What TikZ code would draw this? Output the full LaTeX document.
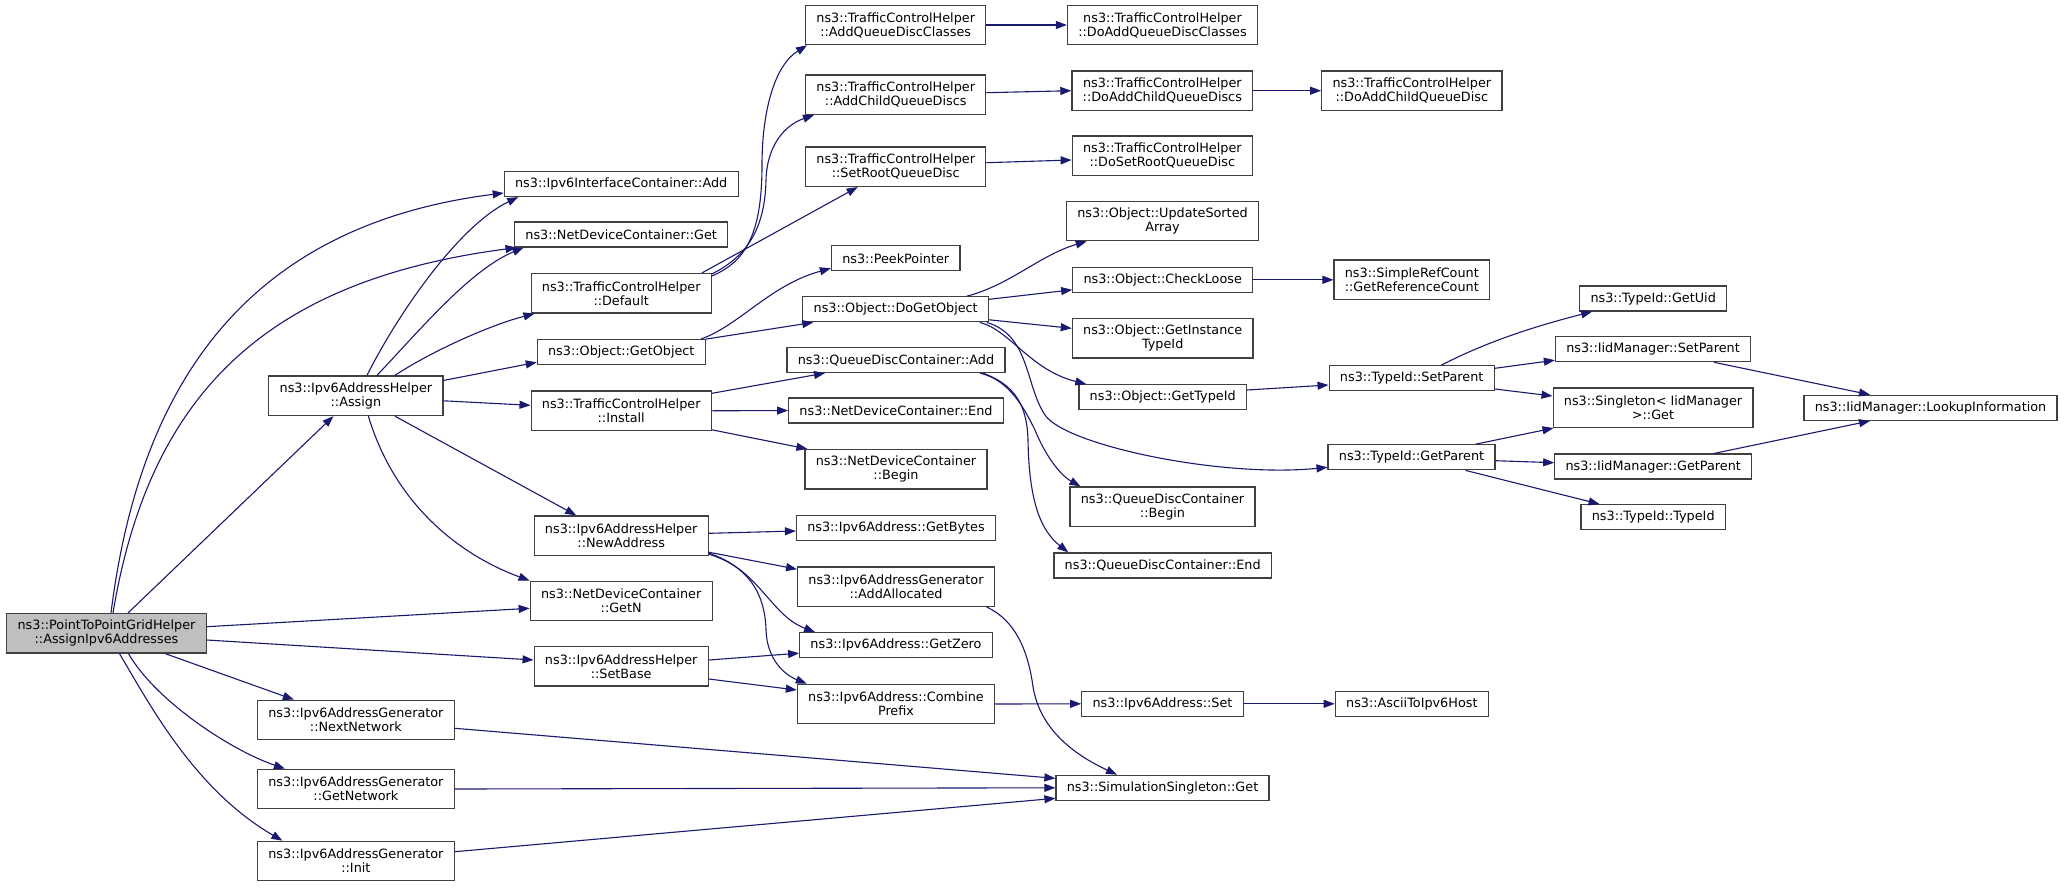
\documentclass[tikz,border=0pt]{standalone}
\usepackage{fontspec}
\setmainfont{DejaVu Sans}
\usetikzlibrary{arrows.meta, positioning}
\definecolor{edgeblue}{RGB}{25,25,112}
\definecolor{boxgray}{RGB}{64,64,64}
\definecolor{rootfill}{RGB}{191,191,191}
\tikzset{
  fn/.style={rectangle, draw=boxgray, fill=white, line width=1.2pt,
    align=center, inner xsep=10.8pt, inner ysep=0pt, minimum height=25pt,
    font=\fontsize{12.8}{14}\selectfont},
  fnTwo/.style={fn, minimum height=39.5pt},
  fnRoot/.style={fnTwo, fill=rootfill},
  call/.style={-{Triangle[length=11pt, width=8pt]}, line width=1.1pt, draw=edgeblue},
}
\begin{document}
\begin{tikzpicture}[x=1pt, y=-1pt]
  \path[use as bounding box, fill=white] (0,0) rectangle (2064,887);

  % ---- Caller and first level ----
  \node[fnRoot] (root) at (106.5,633.3) {ns3::PointToPointGridHelper\\::AssignIpv6Addresses};
  \node[fnTwo] (assign)  at (355.9,395.8) {ns3::Ipv6AddressHelper\\::Assign};
  \node[fnTwo] (nextnet) at (355.9,720)   {ns3::Ipv6AddressGenerator\\::NextNetwork};
  \node[fnTwo] (getnet)  at (355.9,789)   {ns3::Ipv6AddressGenerator\\::GetNetwork};
  \node[fnTwo] (init)    at (355.9,861)   {ns3::Ipv6AddressGenerator\\::Init};

  % ---- Second column ----
  \node[fn]    (ifadd)     at (621.2,184)   {ns3::Ipv6InterfaceContainer::Add};
  \node[fn]    (ndget)     at (621.2,234.5) {ns3::NetDeviceContainer::Get};
  \node[fnTwo] (tcdefault) at (621.2,293.3) {ns3::TrafficControlHelper\\::Default};
  \node[fn]    (getobj)    at (621.3,352.2) {ns3::Object::GetObject};
  \node[fnTwo] (tcinstall) at (621.2,410.8) {ns3::TrafficControlHelper\\::Install};
  \node[fnTwo] (newaddr)   at (621.2,535.7) {ns3::Ipv6AddressHelper\\::NewAddress};
  \node[fnTwo] (getn)      at (621.2,601)   {ns3::NetDeviceContainer\\::GetN};
  \node[fnTwo] (setbase)   at (621.2,666.3) {ns3::Ipv6AddressHelper\\::SetBase};

  % ---- Third column ----
  \node[fnTwo] (addqdc)   at (895.7,25)    {ns3::TrafficControlHelper\\::AddQueueDiscClasses};
  \node[fnTwo] (addcqd)   at (895.7,94.7)  {ns3::TrafficControlHelper\\::AddChildQueueDiscs};
  \node[fnTwo] (setroot)  at (895.7,166.7) {ns3::TrafficControlHelper\\::SetRootQueueDisc};
  \node[fn]    (peek)     at (895.7,258.3) {ns3::PeekPointer};
  \node[fn]    (dogetobj) at (895.7,309.3) {ns3::Object::DoGetObject};
  \node[fn]    (qdcadd)   at (896,360)     {ns3::QueueDiscContainer::Add};
  \node[fn]    (ndend)    at (896,410.5)   {ns3::NetDeviceContainer::End};
  \node[fnTwo] (ndbegin)  at (896,469.3)   {ns3::NetDeviceContainer\\::Begin};
  \node[fn]    (getbytes) at (896,527.8)   {ns3::Ipv6Address::GetBytes};
  \node[fnTwo] (addalloc) at (896,586.7)   {ns3::Ipv6AddressGenerator\\::AddAllocated};
  \node[fn]    (getzero)  at (896,645.2)   {ns3::Ipv6Address::GetZero};
  \node[fnTwo] (combine)  at (896,704)     {ns3::Ipv6Address::Combine\\Prefix};

  % ---- Fourth column ----
  \node[fnTwo] (doaddqdc)   at (1162.5,25)    {ns3::TrafficControlHelper\\::DoAddQueueDiscClasses};
  \node[fnTwo] (doaddcqds)  at (1162.3,90.7)  {ns3::TrafficControlHelper\\::DoAddChildQueueDiscs};
  \node[fnTwo] (dosetroot)  at (1162.3,155.7) {ns3::TrafficControlHelper\\::DoSetRootQueueDisc};
  \node[fnTwo] (updsorted)  at (1162.5,221)   {ns3::Object::UpdateSorted\\Array};
  \node[fn]    (checkloose) at (1162.7,279.8) {ns3::Object::CheckLoose};
  \node[fnTwo] (insttid)    at (1162.7,338.3) {ns3::Object::GetInstance\\TypeId};
  \node[fn]    (gettid)     at (1162.7,397.2) {ns3::Object::GetTypeId};
  \node[fnTwo] (qdcbegin)   at (1162.5,506.7) {ns3::QueueDiscContainer\\::Begin};
  \node[fn]    (qdcend)     at (1162.7,565.5) {ns3::QueueDiscContainer::End};
  \node[fn]    (v6set)      at (1162.5,703.8) {ns3::Ipv6Address::Set};
  \node[fn]    (simget)     at (1162.5,787.8) {ns3::SimulationSingleton::Get};

  % ---- Fifth column ----
  \node[fnTwo] (doaddcqd)  at (1411.8,90.7)  {ns3::TrafficControlHelper\\::DoAddChildQueueDisc};
  \node[fnTwo] (refcount)  at (1411.8,279.8) {ns3::SimpleRefCount\\::GetReferenceCount};
  \node[fn]    (tidsetpar) at (1411.7,378.3) {ns3::TypeId::SetParent};
  \node[fn]    (tidgetpar) at (1411.5,457.3) {ns3::TypeId::GetParent};
  \node[fn]    (ascii)     at (1411.8,703.8) {ns3::AsciiToIpv6Host};

  % ---- Sixth and last column ----
  \node[fn]    (getuid)    at (1653.2,298.5) {ns3::TypeId::GetUid};
  \node[fn]    (iidsetpar) at (1653,349.2)   {ns3::IidManager::SetParent};
  \node[fnTwo] (singget)   at (1653,407.7)   {ns3::Singleton< IidManager\\>::Get};
  \node[fn]    (iidgetpar) at (1653.2,466.5) {ns3::IidManager::GetParent};
  \node[fn]    (tidtypeid) at (1653.2,517.2) {ns3::TypeId::TypeId};
  \node[fn]    (lookup)    at (1930.5,407.8) {ns3::IidManager::LookupInformation};

  % ---- Calls from the caller ----
  \draw[call] ([xshift=4.5pt]root.north) .. controls (140,380) and (250,225) .. ([yshift=-9pt]ifadd.west);
  \draw[call] ([xshift=6.5pt]root.north) .. controls (150,390) and (270,280) .. ([xshift=2.5pt]ndget.south west);
  \draw[call] ([xshift=21.5pt]root.north) -- ([xshift=-22.5pt]assign.south);
  \draw[call] ([yshift=6.6pt]root.east) -- ([yshift=-7.3pt]getn.west);
  \draw[call] ([yshift=-6.7pt]root.east) -- ([yshift=6.3pt]setbase.west);
  \draw[call] ([xshift=58.8pt]root.south) -- ([xshift=-62pt]nextnet.north);
  \draw[call] ([xshift=22pt]root.south) .. controls (155,700) and (230,750) .. ([xshift=-71pt]getnet.north);
  \draw[call] ([xshift=13pt]root.south) .. controls (150,705) and (195,790) .. ([xshift=-73.5pt]init.north);

  % ---- Ipv6AddressHelper::Assign ----
  \draw[call] ([xshift=11pt]assign.north) .. controls (400,310) and (460,225) .. ([xshift=14.5pt]ifadd.south west);
  \draw[call] ([xshift=21pt]assign.north) .. controls (420,330) and (470,270) .. ([xshift=9.5pt]ndget.south west);
  \draw[call] ([xshift=39pt]assign.north) .. controls (430,352) and (490,325) .. ([xshift=4pt]tcdefault.south west);
  \draw[call] ([yshift=-5pt]assign.north east) -- ([yshift=3pt]getobj.south west);
  \draw[call] ([yshift=-5pt]assign.east) -- ([yshift=5.5pt]tcinstall.west);
  \draw[call] ([xshift=39pt]assign.south) -- ([xshift=-45pt]newaddr.north);
  \draw[call] ([xshift=12.5pt]assign.south) .. controls (395,505) and (460,555) .. (getn.north west);

  % ---- TrafficControlHelper::Default ----
  \draw[call] ([yshift=-3pt]tcdefault.north east) .. controls (745,262) and (762,235) .. (762,165)
    .. controls (762,110) and (775,65) .. ([xshift=2pt]addqdc.south west);
  \draw[call] ([yshift=-1pt]tcdefault.north east) .. controls (750,255) and (765,225) .. (766,180)
    .. controls (767,145) and (785,125) .. ([xshift=9pt]addcqd.south west);
  \draw[call] ([xshift=-10pt]tcdefault.north east) -- ([xshift=-38pt]setroot.south);
  \draw[call] (addqdc.east) -- (doaddqdc.west);
  \draw[call] ([yshift=2pt]addcqd.east) -- (doaddcqds.west);
  \draw[call] (doaddcqds.east) -- (doaddcqd.west);
  \draw[call] ([yshift=4pt]setroot.east) -- ([yshift=-4.3pt]dosetroot.west);

  % ---- Object::GetObject ----
  \draw[call] ([xshift=-5pt]getobj.north east) .. controls (740,325) and (770,285) .. ([yshift=-10pt]peek.west);
  \draw[call] (getobj.north east) -- ([xshift=11pt]dogetobj.south west);
  \draw[call] ([xshift=71pt]dogetobj.north) .. controls (1010,285) and (1040,255) .. ([xshift=-75.8pt]updsorted.south);
  \draw[call] ([yshift=10pt]dogetobj.east) -- ([yshift=-10pt]checkloose.west);
  \draw[call] ([yshift=-10.5pt]dogetobj.east) -- ([yshift=10pt]insttid.west);
  \draw[call] ([xshift=84pt]dogetobj.south) .. controls (1010,330) and (1030,370) .. ([xshift=8pt]gettid.north west);
  \draw[call] ([xshift=91pt]dogetobj.south) .. controls (1030,335) and (1025,385) .. (1045,415)
    .. controls (1065,445) and (1220,478) .. ([yshift=-10pt]tidgetpar.west);
  \draw[call] (checkloose.east) -- (refcount.west);
  \draw[call] ([yshift=7.2pt]gettid.east) -- ([yshift=-6.7pt]tidsetpar.west);

  % ---- TypeId ----
  \draw[call] ([xshift=29.6pt]tidsetpar.north) .. controls (1490,340) and (1540,325) .. ([xshift=13pt]getuid.south west);
  \draw[call] ([yshift=10pt]tidsetpar.east) -- ([yshift=-11pt]iidsetpar.west);
  \draw[call] ([yshift=-10.7pt]tidsetpar.east) -- ([yshift=11.7pt]singget.west);
  \draw[call] ([xshift=64pt]tidgetpar.north) -- ([xshift=1pt]singget.south west);
  \draw[call] ([yshift=-3.4pt]tidgetpar.east) -- ([yshift=3.8pt]iidgetpar.west);
  \draw[call] ([xshift=54pt]tidgetpar.south) -- ([xshift=-53.6pt]tidtypeid.north);
  \draw[call] ([xshift=61pt]iidsetpar.south) -- ([xshift=-60.5pt]lookup.north);
  \draw[call] ([xshift=61pt]iidgetpar.north) -- ([xshift=-60.5pt]lookup.south);

  % ---- TrafficControlHelper::Install ----
  \draw[call] ([yshift=17.5pt]tcinstall.east) -- ([xshift=-71pt]qdcadd.south);
  \draw[call] (tcinstall.east) -- (ndend.west);
  \draw[call] ([yshift=-19pt]tcinstall.east) -- ([xshift=3pt]ndbegin.north west);
  \draw[call] ([xshift=84pt]qdcadd.south) .. controls (1010,380) and (1025,410) .. (1035,430)
    .. controls (1045,455) and (1060,475) .. ([xshift=11pt]qdcbegin.north west);
  \draw[call] ([xshift=87pt]qdcadd.south) .. controls (1015,385) and (1027,405) .. (1028,440)
    .. controls (1029,500) and (1040,530) .. ([xshift=15pt]qdcend.north west);

  % ---- Ipv6AddressHelper::NewAddress and ::SetBase ----
  \draw[call] ([yshift=2.4pt]newaddr.east) -- ([yshift=-3.2pt]getbytes.west);
  \draw[call] ([yshift=-16.5pt]newaddr.east) -- ([yshift=17.5pt]addalloc.west);
  \draw[call] ([yshift=-17.5pt]newaddr.east) .. controls (760,570) and (770,615) .. ([xshift=16pt]getzero.north west);
  \draw[call] ([yshift=-18.5pt]newaddr.east) .. controls (745,565) and (765,590) .. (766,630)
    .. controls (767,660) and (785,675) .. ([xshift=10pt]combine.north west);
  \draw[call] ([yshift=6.3pt]setbase.east) -- ([yshift=-8pt]getzero.west);
  \draw[call] ([yshift=-12.7pt]setbase.east) -- ([yshift=14pt]combine.west);
  \draw[call] (combine.east) -- (v6set.west);
  \draw[call] (v6set.east) -- (ascii.west);

  % ---- SimulationSingleton::Get ----
  \draw[call] ([xshift=90.7pt]addalloc.south) .. controls (1015,620) and (1028,650) .. (1033,686.7)
    .. controls (1040,730) and (1075,755) .. ([xshift=-45.5pt]simget.north);
  \draw[call] ([yshift=-8.3pt]nextnet.east) -- ([yshift=9.5pt]simget.west);
  \draw[call] (getnet.east) -- (simget.west);
  \draw[call] ([yshift=9.3pt]init.east) -- ([yshift=-10.5pt]simget.west);
\end{tikzpicture}
\end{document}
